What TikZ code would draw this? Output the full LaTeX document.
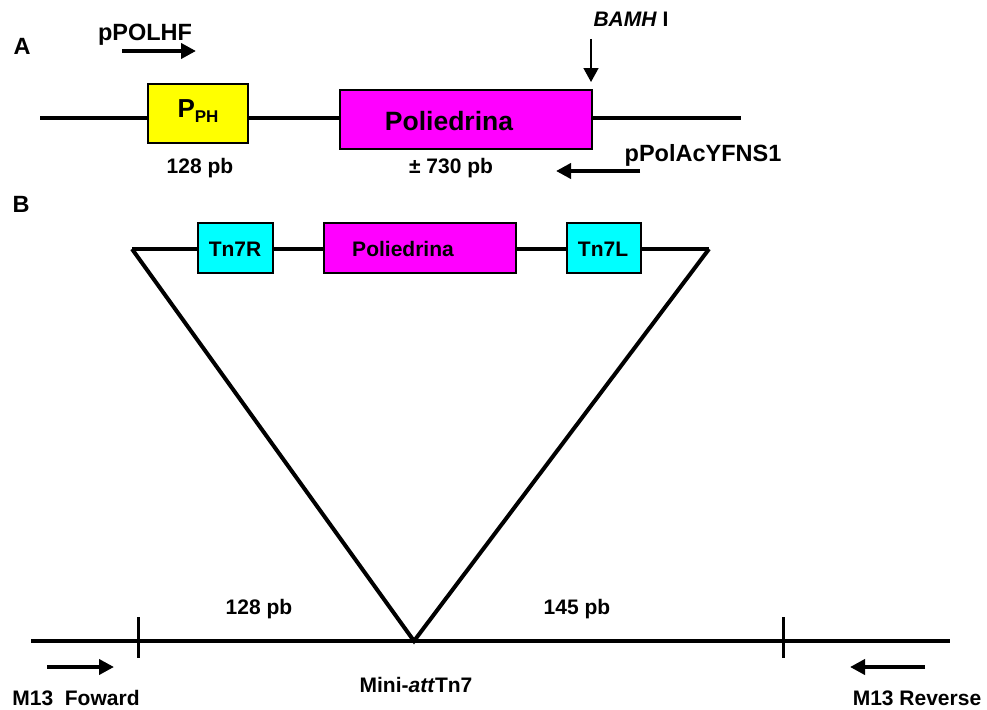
\documentclass[tikz,border=0pt]{standalone}
\usepackage{fontspec}
\setmainfont{Liberation Sans}
\usetikzlibrary{arrows.meta, positioning, calc}
\definecolor{promotor}{RGB}{255,255,0}
\definecolor{gen}{RGB}{255,0,255}
\definecolor{tnujung}{RGB}{0,255,255}

\begin{document}
\begin{tikzpicture}[x=1pt, y=-1pt, font=\bfseries,
        dna/.style={line width=4pt},
        kotak/.style={draw, line width=1.5pt, inner sep=0pt, minimum height=59pt},
        kotakb/.style={draw, line width=1.5pt, inner sep=0pt, minimum height=50pt},
        primer/.style={line width=4pt, -{Triangle[length=15pt, width=15pt]}},
        potong/.style={line width=1.5pt, -{Triangle[length=14pt, width=15pt]}},
        teks/.style={font={\fontsize{23.5}{26}\selectfont\bfseries}, inner sep=0pt},
        kecil/.style={font={\fontsize{21}{23}\selectfont\bfseries}, inner sep=0pt}]
        \useasboundingbox (0,0) rectangle (987,709);

        % panel A
        \node[teks] (hurufA) at (22,46) {A};
        \coordinate (a0) at (40,118);
        \coordinate (a1) at (741,118);
        \draw[dna] (a0) -- (a1);
        \node[kotak, fill=promotor, minimum width=100pt] (pph) at (198,113.5) {};
        \node[inner sep=0pt] (pphtxt) at (198,111)
            {{\fontsize{26}{28}\selectfont P}{\fontsize{17}{18}\selectfont\raisebox{-5pt}{PH}}};
        \node[kotak, fill=gen, minimum width=252pt] (polA) at (466,119.5) {};
        \node[font={\fontsize{26.5}{28}\selectfont\bfseries}, inner sep=0pt] (polAtxt) at (449,121) {Poliedrina};
        \node[kecil] (pjgP) at (200,168) {128 pb};
        \node[kecil] (pjgPol) at (451,168) {± 730 pb};

        \node[teks] (pfw) at (145,35) {pPOLHF};
        \coordinate (fw0) at (122,51);
        \coordinate (fw1) at (196,51);
        \draw[primer] (fw0) -- (fw1);

        \node[kecil] (bam) at (631,19) {\textit{BAMH} I};
        \coordinate (bam0) at (591,39);
        \coordinate (bam1) at (591,82);
        \draw[potong] (bam0) -- (bam1);

        \node[teks] (prv) at (703,155) {pPolAcYFNS1};
        \coordinate (rv0) at (640,171);
        \coordinate (rv1) at (556,171);
        \draw[primer] (rv0) -- (rv1);

        % panel B
        \node[teks] (hurufB) at (21,204) {B};
        \coordinate (kiri) at (132,249);
        \coordinate (kanan) at (709,249);
        \coordinate (att) at (414,641);
        \draw[dna] (kiri) -- (kanan);
        \draw[dna, line join=miter] (kiri) -- (att) -- (kanan);
        \node[kotakb, fill=tnujung, minimum width=75pt] (tnr) at (235.5,248) {};
        \node[kotakb, fill=gen, minimum width=192pt] (polB) at (420,248) {};
        \node[kotakb, fill=tnujung, minimum width=74pt] (tnl) at (604,248) {};
        \node[kecil] (tnrtxt) at (235,249) {Tn7R};
        \node[kecil] (polBtxt) at (403,249) {Poliedrina};
        \node[kecil] (tnltxt) at (603,249) {Tn7L};

        \coordinate (b0) at (31,641);
        \coordinate (b1) at (950,641);
        \draw[dna] (b0) -- (b1);
        \foreach \tx/\nm in {138/tk1, 783/tk2}
        {
            \coordinate (\nm a) at (\tx,617);
            \coordinate (\nm b) at (\tx,658);
            \draw[line width=3pt] (\nm a) -- (\nm b);
        }
        \node[kecil] (pjg1) at (259,609) {128 pb};
        \node[kecil] (pjg2) at (577,609) {145 pb};
        \node[kecil] (mini) at (416,685) {Mini-\textit{att}Tn7};

        \coordinate (mf0) at (47,667);
        \coordinate (mf1) at (114,667);
        \draw[primer] (mf0) -- (mf1);
        \coordinate (mr0) at (925,667);
        \coordinate (mr1) at (850,667);
        \draw[primer] (mr0) -- (mr1);
        \node[kecil] (m13f) at (76,698) {M13\ \ Foward};
        \node[kecil] (m13r) at (917,698) {M13 Reverse};
    \end{tikzpicture}
\end{document}
